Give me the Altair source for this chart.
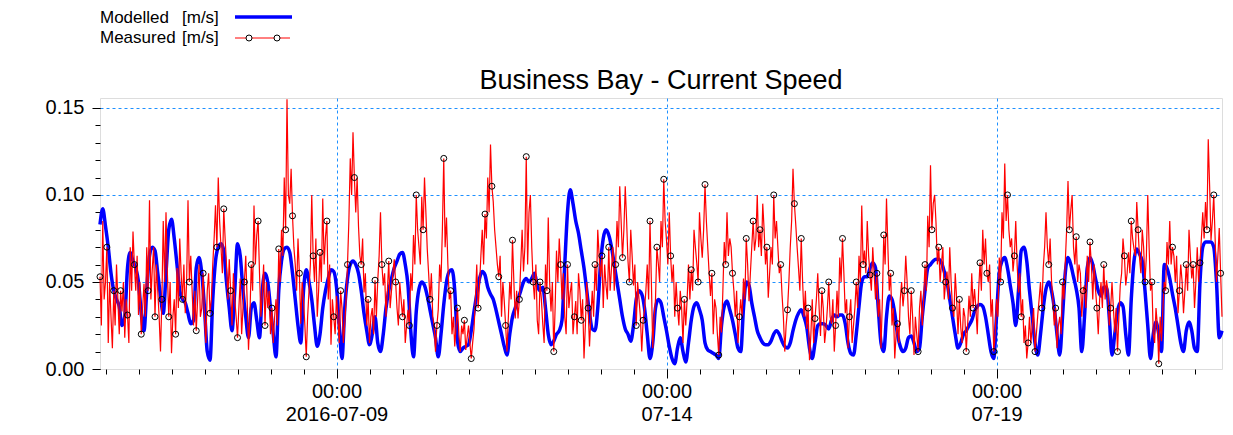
import altair as alt
import pandas as pd

# ---------------- data ----------------
START = "2016-07-05 10:00"   # first sample; modelled hourly, measured every 30 min

modelled = [
    0.083, 0.092, 0.082, 0.07, 0.055, 0.045, 0.04, 0.036, 0.025, 0.03,
    0.058, 0.067, 0.062, 0.058, 0.05, 0.032, 0.022, 0.045, 0.065, 0.07,
    0.068, 0.055, 0.042, 0.032, 0.055, 0.08, 0.086, 0.075, 0.06, 0.045,
    0.04, 0.038, 0.032, 0.026, 0.028, 0.058, 0.064, 0.055, 0.035, 0.01,
    0.005, 0.04, 0.062, 0.07, 0.072, 0.068, 0.05, 0.035, 0.022, 0.045,
    0.072, 0.065, 0.045, 0.03, 0.018, 0.035, 0.038, 0.028, 0.018, 0.045,
    0.055, 0.05, 0.035, 0.02, 0.007, 0.045, 0.062, 0.069, 0.07, 0.067,
    0.055, 0.04, 0.025, 0.015, 0.045, 0.057, 0.05, 0.04, 0.025, 0.013,
    0.02, 0.035, 0.045, 0.052, 0.057, 0.056, 0.047, 0.025, 0.006, 0.035,
    0.052, 0.06, 0.062, 0.06, 0.055, 0.045, 0.032, 0.022, 0.014, 0.02,
    0.03, 0.015, 0.01, 0.02, 0.035, 0.045, 0.052, 0.058, 0.062, 0.066,
    0.067, 0.06, 0.048, 0.022, 0.007, 0.033, 0.046, 0.05, 0.048, 0.042,
    0.034, 0.026, 0.018, 0.007, 0.02, 0.037, 0.05, 0.056, 0.057, 0.045,
    0.016, 0.01, 0.012, 0.013, 0.014, 0.022, 0.033, 0.043, 0.052, 0.056,
    0.054, 0.047, 0.043, 0.04, 0.034, 0.027, 0.02, 0.013, 0.008, 0.02,
    0.03, 0.035, 0.04, 0.045, 0.05, 0.052, 0.05, 0.052, 0.055, 0.048,
    0.045, 0.047, 0.035, 0.02, 0.014, 0.016, 0.02, 0.022, 0.028, 0.06,
    0.09, 0.103, 0.095, 0.085, 0.078, 0.068, 0.058, 0.045, 0.032, 0.023,
    0.022, 0.035, 0.06, 0.075, 0.08, 0.077, 0.07, 0.06, 0.05, 0.04,
    0.03, 0.023, 0.02, 0.016, 0.025, 0.04, 0.045, 0.043, 0.035, 0.02,
    0.006, 0.015, 0.035, 0.04, 0.038, 0.03, 0.022, 0.013, 0.006, 0.003,
    0.012, 0.018, 0.01, 0.004, 0.015, 0.028, 0.036, 0.038, 0.034, 0.028,
    0.015, 0.011, 0.01, 0.009, 0.008, 0.006, 0.025, 0.036, 0.039, 0.034,
    0.028, 0.02, 0.012, 0.01, 0.035, 0.05, 0.048, 0.038, 0.03, 0.022,
    0.018, 0.015, 0.014, 0.014, 0.016, 0.02, 0.022, 0.02, 0.016, 0.013,
    0.012, 0.015, 0.022, 0.028, 0.032, 0.034, 0.03, 0.024, 0.012, 0.006,
    0.015, 0.025, 0.026, 0.026, 0.025, 0.023, 0.028, 0.031, 0.03, 0.031,
    0.031, 0.026, 0.015, 0.009, 0.008, 0.02, 0.036, 0.05, 0.053, 0.053,
    0.058, 0.061, 0.058, 0.035, 0.015, 0.01, 0.03, 0.042, 0.04, 0.032,
    0.02, 0.013, 0.01, 0.012, 0.018, 0.019, 0.015, 0.01, 0.012, 0.03,
    0.045, 0.058, 0.06, 0.062, 0.063, 0.063, 0.061, 0.056, 0.05, 0.04,
    0.03, 0.02, 0.012, 0.015, 0.02, 0.022, 0.025, 0.028, 0.033, 0.036,
    0.037, 0.036, 0.03, 0.02, 0.01, 0.006, 0.03, 0.055, 0.062, 0.064,
    0.058, 0.048, 0.038, 0.025, 0.045, 0.068, 0.07, 0.062, 0.045, 0.03,
    0.015, 0.008, 0.02, 0.035, 0.046, 0.05, 0.045, 0.035, 0.02, 0.008,
    0.03, 0.055, 0.064, 0.06, 0.053, 0.046, 0.035, 0.01, 0.03, 0.058,
    0.064, 0.06, 0.052, 0.045, 0.042, 0.047, 0.047, 0.03, 0.008, 0.02,
    0.033, 0.038, 0.036, 0.02, 0.008, 0.04, 0.062, 0.069, 0.066, 0.062,
    0.045, 0.025, 0.006, 0.02, 0.027, 0.02, 0.01, 0.06, 0.058, 0.052,
    0.043, 0.035, 0.025, 0.015, 0.01, 0.022, 0.027, 0.022, 0.012, 0.01,
    0.05, 0.07, 0.073, 0.073, 0.073, 0.07, 0.05, 0.018, 0.022,
]

# measured speed on the full hour
measured_hour = [
    0.053, 0.085, 0.05, 0.015, 0.03, 0.045, 0.06, 0.02, 0.033, 0.018,
    0.031, 0.07, 0.079, 0.045, 0.031, 0.02, 0.049, 0.07, 0.097, 0.057,
    0.03, 0.045, 0.01, 0.085, 0.09, 0.03, 0.009, 0.04, 0.058, 0.075,
    0.04, 0.032, 0.097, 0.065, 0.025, 0.022, 0.06, 0.035, 0.029, 0.045,
    0.032, 0.06, 0.094, 0.11, 0.07, 0.092, 0.06, 0.063, 0.025, 0.04,
    0.018,
    0.052, 0.035, 0.065, 0.011, 0.06, 0.094, 0.077, 0.055, 0.043, 0.025,
    0.035, 0.02, 0.015, 0.04, 0.069, 0.08, 0.11, 0.155, 0.095, 0.088,
    0.06, 0.075, 0.026, 0.04, 0.007, 0.045, 0.1, 0.05, 0.03, 0.067,
    0.098, 0.076, 0.04, 0.014, 0.03, 0.042, 0.015, 0.035, 0.026, 0.06,
    0.121, 0.136, 0.09, 0.082, 0.06, 0.044, 0.025, 0.015, 0.035, 0.051,
    0.051, 0.09, 0.048, 0.03, 0.062, 0.045, 0.063, 0.035, 0.05, 0.03,
    0.015, 0.034, 0.055, 0.077, 0.1, 0.07, 0.099, 0.11, 0.069, 0.04,
    0.03, 0.01, 0.034, 0.05, 0.121, 0.087, 0.04, 0.02, 0.013, 0.035,
    0.01, 0.02, 0.011, 0.025, 0.006, 0.023, 0.06, 0.048, 0.08, 0.089,
    0.11, 0.129, 0.096, 0.07, 0.053, 0.03, 0.039, 0.01, 0.05, 0.074,
    0.029,
    0.029, 0.06, 0.056, 0.122, 0.09, 0.07, 0.04, 0.028, 0.05,
    0.026, 0.06, 0.087, 0.033, 0.01, 0.068, 0.075, 0.04, 0.03, 0.06,
    0.044, 0.02, 0.039, 0.055, 0.028, 0.006, 0.05, 0.013, 0.045, 0.06,
    0.08, 0.053, 0.035, 0.048, 0.07, 0.058, 0.045, 0.085, 0.105, 0.064,
    0.105, 0.062, 0.08, 0.048, 0.025, 0.04, 0.01, 0.034, 0.06, 0.085,
    0.012, 0.04,
    0.061, 0.085, 0.109, 0.074, 0.09, 0.05, 0.03,
    0.035, 0.045, 0.015, 0.025, 0.06, 0.057, 0.08, 0.061, 0.09, 0.064,
    0.106, 0.07, 0.042, 0.02, 0.035, 0.008, 0.021, 0.073, 0.09, 0.075,
    0.055, 0.03, 0.015, 0.04, 0.052, 0.075, 0.039, 0.07, 0.068, 0.1,
    0.08, 0.095, 0.06, 0.041, 0.07, 0.1, 0.085, 0.055, 0.043, 0.01,
    0.034, 0.07, 0.115, 0.083,
    0.058, 0.075, 0.03, 0.023, 0.005, 0.04,
    0.029, 0.055, 0.019, 0.035, 0.023, 0.05, 0.026, 0.01, 0.045, 0.064,
    0.075, 0.032, 0.012, 0.04, 0.025, 0.05, 0.065, 0.094, 0.068, 0.085,
    0.054, 0.07, 0.04, 0.03, 0.012, 0.077, 0.098, 0.045, 0.025, 0.006,
    0.026, 0.04, 0.036, 0.065, 0.03, 0.045, 0.008, 0.02, 0.035, 0.025,
    0.06, 0.088, 0.117, 0.095, 0.084,
    0.07, 0.061, 0.04, 0.056, 0.07,
    0.035, 0.055, 0.02, 0.024, 0.035, 0.01, 0.042, 0.055, 0.046, 0.02,
    0.061, 0.08, 0.075, 0.05, 0.03, 0.01, 0.04, 0.064, 0.09, 0.118,
    0.1, 0.07, 0.056, 0.085, 0.044, 0.03, 0.015, 0.006, 0.03, 0.025,
    0.01, 0.031, 0.05, 0.058, 0.09, 0.06, 0.051, 0.025, 0.012, 0.03,
    0.05, 0.061, 0.108, 0.091, 0.07, 0.076,
    0.06, 0.03, 0.048, 0.065,
    0.073, 0.04, 0.046, 0.02, 0.05, 0.06, 0.051, 0.025, 0.05, 0.021,
    0.01, 0.048, 0.075, 0.048, 0.067, 0.085, 0.069, 0.096, 0.064, 0.08,
    0.05, 0.1, 0.045, 0.02, 0.035, 0.003, 0.016, 0.05, 0.073, 0.085,
    0.07, 0.05, 0.032, 0.06, 0.032, 0.06, 0.08, 0.052, 0.035, 0.07,
    0.061, 0.09, 0.096, 0.132, 0.074, 0.1, 0.05, 0.081, 0.03,
]

# measured speed on the half hour (hh:30)
measured_half = [
    0.025, 0.04, 0.07, 0.05, 0.012, 0.025, 0.04, 0.045, 0.05, 0.04,
    0.015, 0.045, 0.06, 0.065, 0.05, 0.035, 0.03, 0.045, 0.04, 0.07,
    0.06, 0.03, 0.04, 0.05, 0.055, 0.05, 0.03, 0.02, 0.035, 0.055,
    0.06, 0.05, 0.05, 0.045, 0.045, 0.04, 0.03, 0.055, 0.015, 0.055,
    0.04, 0.075, 0.07, 0.085, 0.055, 0.075, 0.04, 0.045, 0.055, 0.03,
    0.035, 0.02, 0.05, 0.04, 0.03, 0.045, 0.06, 0.085, 0.03, 0.06,
    0.05, 0.045, 0.035, 0.03, 0.025, 0.05, 0.065, 0.08, 0.1, 0.115,
    0.07, 0.045, 0.055, 0.05, 0.025, 0.03, 0.06, 0.065, 0.075, 0.045,
    0.05, 0.06, 0.085, 0.06, 0.04, 0.02, 0.03, 0.045, 0.015, 0.04,
    0.085, 0.1, 0.11, 0.11, 0.065, 0.075, 0.055, 0.04, 0.03, 0.02,
    0.03, 0.065, 0.06, 0.055, 0.045, 0.035, 0.055, 0.05, 0.025, 0.04,
    0.04, 0.025, 0.025, 0.045, 0.06, 0.08, 0.06, 0.08, 0.09, 0.055,
    0.055, 0.025, 0.025, 0.06, 0.08, 0.07, 0.06, 0.045, 0.03, 0.025,
    0.02, 0.025, 0.028, 0.018, 0.015, 0.015, 0.04, 0.035, 0.065, 0.06,
    0.075, 0.09, 0.105, 0.08, 0.06, 0.065, 0.05, 0.025, 0.03, 0.04,
    0.05,
    0.045, 0.04, 0.08, 0.07, 0.06, 0.1, 0.05, 0.06, 0.02, 0.04,
    0.015, 0.045, 0.05, 0.05, 0.035, 0.05, 0.06, 0.055, 0.02, 0.035,
    0.05, 0.03, 0.02, 0.045, 0.04, 0.025, 0.035, 0.03, 0.03, 0.045,
    0.065, 0.065, 0.06, 0.04, 0.045, 0.07, 0.06, 0.07, 0.085, 0.08,
    0.085, 0.05, 0.065, 0.06, 0.05, 0.03, 0.028, 0.045, 0.04, 0.05,
    0.03,
    0.07, 0.05, 0.07, 0.085, 0.06, 0.065, 0.06, 0.05, 0.025, 0.035,
    0.04, 0.04, 0.04, 0.045, 0.07, 0.05, 0.075, 0.08, 0.085, 0.055,
    0.055, 0.04, 0.02, 0.03, 0.045, 0.06, 0.065, 0.07, 0.045, 0.045,
    0.03, 0.03, 0.04, 0.06, 0.055, 0.085, 0.075, 0.07, 0.065, 0.08,
    0.07, 0.055, 0.06, 0.075, 0.07, 0.06, 0.03, 0.025, 0.05, 0.085,
    0.095,
    0.07, 0.045, 0.05, 0.045, 0.035, 0.02, 0.015, 0.04, 0.035, 0.045,
    0.015, 0.035, 0.03, 0.04, 0.025, 0.03, 0.05, 0.055, 0.04, 0.03,
    0.015, 0.035, 0.035, 0.05, 0.06, 0.055, 0.065, 0.045, 0.055, 0.055,
    0.04, 0.04, 0.06, 0.07, 0.055, 0.035, 0.02, 0.015, 0.05, 0.045,
    0.05, 0.02, 0.03, 0.03, 0.01, 0.045, 0.04, 0.045, 0.07, 0.08,
    0.1,
    0.06, 0.05, 0.07, 0.05, 0.04, 0.05, 0.03, 0.04, 0.04, 0.015,
    0.03, 0.025, 0.03, 0.035, 0.035, 0.045, 0.045, 0.06, 0.055, 0.06,
    0.04, 0.02, 0.03, 0.05, 0.075, 0.085, 0.08, 0.075, 0.065, 0.06,
    0.055, 0.04, 0.025, 0.015, 0.015, 0.035, 0.02, 0.04, 0.035, 0.07,
    0.07, 0.075, 0.04, 0.035, 0.025, 0.02, 0.04, 0.08, 0.08, 0.1,
    0.06,
    0.05, 0.055, 0.045, 0.035, 0.05, 0.06, 0.06, 0.035, 0.04, 0.035,
    0.04, 0.045, 0.035, 0.035, 0.035, 0.03, 0.055, 0.065, 0.055, 0.055,
    0.075, 0.065, 0.08, 0.055, 0.07, 0.065, 0.07, 0.05, 0.015, 0.025,
    0.03, 0.035, 0.045, 0.06, 0.06, 0.065, 0.065, 0.045, 0.05, 0.045,
    0.045, 0.065, 0.06, 0.05, 0.05, 0.075, 0.075, 0.08, 0.105, 0.085,
    0.075, 0.065, 0.055,
]

legend_names = ["Modelled", "Measured"]
legend_unit = "[m/s]"
title_text = "Business Bay - Current Speed"
y_major = [0.0, 0.05, 0.10, 0.15]
y_minor = [0.00, 0.01, 0.02, 0.03, 0.04, 0.05, 0.06, 0.07, 0.08, 0.09,
           0.10, 0.11, 0.12, 0.13, 0.14, 0.15]
major_days = [9, 14, 19]          # July 2016, 00:00

# ---------------- tables ----------------
hours = pd.date_range(START, periods=len(modelled), freq="h")
df_mod = pd.DataFrame({"time": hours, "modelled": modelled})

meas_vals = []
for k, v in enumerate(measured_hour):
    meas_vals.append(v)
    if k < len(measured_half):
        meas_vals.append(measured_half[k])
half_hours = pd.date_range(START, periods=len(meas_vals), freq="30min")
df_meas = pd.DataFrame({"time": half_hours, "measured": meas_vals})
df_meas["marker"] = [k % 5 == 0 for k in range(len(df_meas))]

FONT = "Liberation Sans"
GRID = "#1E90FF"

x_scale = alt.Scale(domain=[alt.DateTime(year=2016, month=7, date=5, hours=10),
                            alt.DateTime(year=2016, month=7, date=22, hours=10)])
y_scale = alt.Scale(domain=[0, 0.1557], nice=False, zero=True)

minor_x = [alt.DateTime(year=t.year, month=t.month, date=t.day, hours=t.hour)
           for t in pd.date_range("2016-07-05 12:00", "2016-07-22 00:00", freq="12h")]
major_x = [alt.DateTime(year=2016, month=7, date=d) for d in major_days]

# modelled line carries the major ticks, labels and dashed grid
mod_line = alt.Chart(df_mod).mark_line(color="#0000FF", strokeWidth=3.5,
                                       interpolate="monotone").encode(
    x=alt.X("time:T", scale=x_scale,
            axis=alt.Axis(values=major_x, tickSize=9, grid=True,
                          gridColor=GRID, gridDash=[3, 3], gridWidth=1,
                          domain=False, title=None, orient="bottom",
                          tickColor="#000000",
                          labelExpr="[timeFormat(datum.value, '%H:%M'), "
                                    "datum.index == 0 ? timeFormat(datum.value, '%Y-%m-%d') "
                                    ": timeFormat(datum.value, '%m-%d')]",
                          labelFont=FONT, labelFontSize=20, labelColor="#000000",
                          labelLineHeight=23, labelPadding=3, labelFlush=False)),
    y=alt.Y("modelled:Q", scale=y_scale,
            axis=alt.Axis(values=y_major, format=".2f", tickSize=8, grid=True,
                          gridColor=GRID, gridDash=[3, 3], gridWidth=1,
                          gridOpacity={"condition": {"test": "datum.value == 0", "value": 0},
                                       "value": 1},
                          domain=False, title=None, orient="left",
                          tickColor="#000000", labelFont=FONT, labelFontSize=20,
                          labelColor="#000000", labelPadding=8)),
)

# measured line (drawn over the modelled one) carries the minor ticks
meas_line = alt.Chart(df_meas).mark_line(color="#FF0000", strokeWidth=1.2).encode(
    x=alt.X("time:T", scale=x_scale,
            axis=alt.Axis(values=minor_x, tickSize=5, labels=False, grid=False,
                          domain=False, title=None, orient="bottom",
                          tickColor="#000000")),
    y=alt.Y("measured:Q", scale=y_scale,
            axis=alt.Axis(values=y_minor, tickSize=5, labels=False, grid=False,
                          domain=False, title=None, orient="left",
                          tickColor="#000000")),
)

markers = alt.Chart(df_meas).transform_filter("datum.marker").mark_point(
    shape="circle", filled=False, color="#000000", strokeWidth=1, size=36, opacity=1
).encode(
    x=alt.X("time:T", scale=x_scale, axis=None),
    y=alt.Y("measured:Q", scale=y_scale, axis=None),
)

# ---------------- title and legend (labels first, symbols to the right) ----------------
title_df = pd.DataFrame({"title": [title_text]})
title_mark = alt.Chart(title_df).mark_text(
    align="center", baseline="alphabetic", font=FONT, fontSize=27, color="#000000"
).encode(text="title:N", x=alt.value(561), y=alt.value(-9))

leg_df = pd.DataFrame({"name": legend_names, "unit": [legend_unit, legend_unit]})
leg = alt.Chart(leg_df)
txt = dict(align="left", baseline="middle", font=FONT, fontSize=17, color="#000000")
leg_mod_name = leg.transform_filter(alt.datum.name == legend_names[0]).mark_text(**txt).encode(
    text="name:N", x=alt.value(0), y=alt.value(-80))
leg_mea_name = leg.transform_filter(alt.datum.name == legend_names[1]).mark_text(**txt).encode(
    text="name:N", x=alt.value(0), y=alt.value(-60))
leg_mod_unit = leg.transform_filter(alt.datum.name == legend_names[0]).mark_text(**txt).encode(
    text="unit:N", x=alt.value(82), y=alt.value(-80))
leg_mea_unit = leg.transform_filter(alt.datum.name == legend_names[1]).mark_text(**txt).encode(
    text="unit:N", x=alt.value(82), y=alt.value(-60))
leg_mod_sym = leg.transform_filter(alt.datum.name == legend_names[0]).mark_rule(
    color="#0000FF", strokeWidth=3.5
).encode(x=alt.value(135), x2=alt.value(192), y=alt.value(-81))
leg_mea_sym = leg.transform_filter(alt.datum.name == legend_names[1]).mark_rule(
    color="#FF0000", strokeWidth=1
).encode(x=alt.value(135), x2=alt.value(190), y=alt.value(-60))
pt = dict(shape="circle", filled=True, fill="#FFFFFF", stroke="#000000",
          strokeWidth=1, size=36, opacity=1)
leg_mea_pt1 = leg.transform_filter(alt.datum.name == legend_names[1]).mark_point(**pt).encode(
    x=alt.value(149), y=alt.value(-60))
leg_mea_pt2 = leg.transform_filter(alt.datum.name == legend_names[1]).mark_point(**pt).encode(
    x=alt.value(177), y=alt.value(-60))

chart = alt.layer(
    mod_line, meas_line, markers, title_mark,
    leg_mod_name, leg_mea_name, leg_mod_unit, leg_mea_unit,
    leg_mod_sym, leg_mea_sym, leg_mea_pt1, leg_mea_pt2,
).resolve_axis(x="independent", y="independent").properties(
    width=1122, height=271,
    padding={"left": 100, "top": 98, "right": 11, "bottom": 66},
    autosize=alt.AutoSizeParams(type="none"),
).configure_view(stroke="#555555", strokeWidth=1).configure(background="#FFFFFF")

chart.save("out.html", embed_options={"renderer": "svg", "actions": False})
